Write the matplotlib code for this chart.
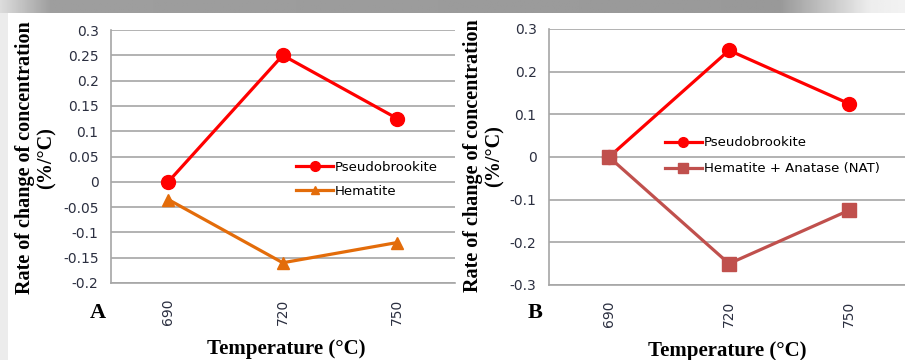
import numpy as np
import matplotlib.pyplot as plt

temps = ['690', '720', '750']
pseudo_a = [0.0, 0.25, 0.125]
hematite_a = [-0.035, -0.16, -0.12]
pseudo_b = [0.0, 0.25, 0.125]
nat_b = [0.0, -0.25, -0.125]

tick_col = '#2b2f40'
grid_col = '#a6a6a6'
serif = 'Liberation Serif'
sans = 'DejaVu Sans'

fig = plt.figure(figsize=(9.05, 3.6), dpi=100)
fig.patch.set_facecolor('white')

# gray gradient band on top and faint shadow at the left edge
band = fig.add_axes([0, 1 - 13 / 360, 1, 13 / 360])
xs = np.linspace(0, 905, 400)
shade = np.interp(xs, [0, 50, 780, 870, 905], [0.86, 0.62, 0.60, 0.93, 0.95])
band.imshow(np.tile(shade, (2, 1)), cmap='gray', vmin=0, vmax=1, aspect='auto',
            extent=[0, 905, 0, 1])
band.axis('off')
strip = fig.add_axes([0, 0, 8 / 905, 1 - 13 / 360])
strip.axis('off')
strip.add_patch(plt.Rectangle((0, 0), 1, 1, color='#ececec', transform=strip.transAxes))


def style_axis(ax, ylim, step):
    ax.set_xlim(-0.5, 2.5)
    ax.set_ylim(*ylim)
    ax.set_yticks(np.round(np.arange(ylim[0], ylim[1] + step / 2, step), 3))
    ax.yaxis.set_major_formatter(plt.FuncFormatter(lambda v, p: f'{v + 0:g}'))
    ax.set_xticks(range(len(temps)), temps, rotation=90)
    ax.grid(axis='y', color=grid_col, linewidth=1.2)
    ax.set_axisbelow(True)
    for s in ['top', 'right']:
        ax.spines[s].set_visible(False)
    for s in ['left', 'bottom']:
        ax.spines[s].set_color(grid_col)
        ax.spines[s].set_linewidth(1.2)
    ax.tick_params(axis='both', length=0, labelcolor=tick_col)
    ax.tick_params(axis='y', pad=9, labelsize=10)
    ax.tick_params(axis='x', pad=11, labelsize=10)
    for lab in ax.get_xticklabels() + ax.get_yticklabels():
        lab.set_family(sans)


leg_kw = dict(loc='upper left', frameon=False, prop={'family': sans, 'size': 9.5},
              handlelength=2.8, handletextpad=0.15, borderpad=0, borderaxespad=0,
              markerscale=0.7)

# panel A
ax1 = fig.add_axes([111 / 905, 77 / 360, 343.5 / 905, 253 / 360])
ax1.plot(range(3), pseudo_a, '-o', color='#ff0000', lw=2.3, ms=10, label='Pseudobrookite')
ax1.plot(range(3), hematite_a, '-^', color='#e36c0a', lw=2.3, ms=9, label='Hematite')
style_axis(ax1, (-0.2, 0.3), 0.05)
ax1.legend(bbox_to_anchor=(0.539, 0.482), labelspacing=0.8, **leg_kw)

# panel B
ax2 = fig.add_axes([549 / 905, 75 / 360, 360 / 905, 256 / 360])
ax2.plot(range(3), pseudo_b, '-o', color='#ff0000', lw=2.3, ms=10, label='Pseudobrookite')
ax2.plot(range(3), nat_b, '-s', color='#c0504d', lw=2.3, ms=10,
         label='Hematite + Anatase (NAT)')
style_axis(ax2, (-0.3, 0.3), 0.1)
ax2.legend(bbox_to_anchor=(0.322, 0.581), labelspacing=1.0, **leg_kw)

ylab = 'Rate of change of concentration\n(%/°C)'
fig.text(36 / 905, 1 - 158 / 360, ylab, rotation=90, ha='center', va='center',
         family=serif, weight='bold', fontsize=14.5, linespacing=1.1)
fig.text(484 / 905, 1 - 156 / 360, ylab, rotation=90, ha='center', va='center',
         family=serif, weight='bold', fontsize=14.5, linespacing=1.1)
fig.text(98 / 905, 1 - 313 / 360, 'A', ha='center', va='center',
         family=serif, weight='bold', fontsize=16)
fig.text(535 / 905, 1 - 313 / 360, 'B', ha='center', va='center',
         family=serif, weight='bold', fontsize=16)
fig.text(286 / 905, 1 - 349 / 360, 'Temperature (°C)', ha='center', va='center',
         family=serif, weight='bold', fontsize=15)
fig.text(727 / 905, 1 - 351 / 360, 'Temperature (°C)', ha='center', va='center',
         family=serif, weight='bold', fontsize=15)

fig.savefig('out.png', dpi=100)
